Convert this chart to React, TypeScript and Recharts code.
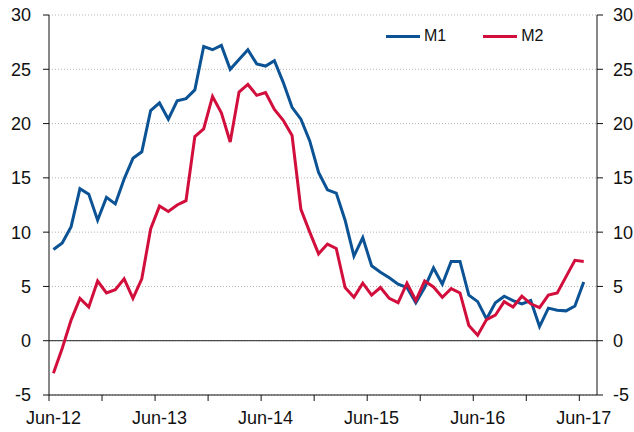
import React from "react";
import {
  LineChart,
  Line,
  XAxis,
  YAxis,
  CartesianGrid,
  ReferenceLine,
  Legend,
} from "recharts";

// monthly, Jun-12 .. Jun-17
const START_YEAR = 12;
const M1 = [
  8.4, 9.0, 10.5, 14.0, 13.5, 11.1, 13.2, 12.6, 14.9, 16.8, 17.4, 21.2, 21.9,
  20.4, 22.1, 22.3, 23.1, 27.1, 26.8, 27.2, 25.0, 25.9, 26.8, 25.5, 25.3, 25.8,
  23.8, 21.5, 20.4, 18.4, 15.5, 13.9, 13.6, 11.1, 7.8, 9.5, 6.9, 6.3, 5.8, 5.2,
  4.9, 3.5, 4.9, 6.7, 5.2, 7.3, 7.3, 4.2, 3.6, 2.0, 3.5, 4.1, 3.7, 3.4, 3.7,
  1.3, 3.0, 2.8, 2.75, 3.2, 5.4,
];
const M2 = [
  -3.0, -0.7, 1.9, 3.9, 3.1, 5.5, 4.4, 4.7, 5.7, 3.9, 5.7, 10.3, 12.4, 11.9,
  12.5, 12.9, 18.8, 19.5, 22.5, 21.0, 18.3, 22.9, 23.6, 22.6, 22.85, 21.3, 20.3,
  18.9, 12.1, 10.0, 8.0, 8.9, 8.5, 4.9, 4.0, 5.3, 4.2, 4.9, 3.9, 3.5, 5.3, 3.7,
  5.5, 4.95, 4.0, 4.8, 4.4, 1.4, 0.5, 1.95, 2.35, 3.6, 3.1, 4.1, 3.4, 3.05, 4.2,
  4.4, 5.9, 7.4, 7.3,
];
const Y_TICKS = [-5, 0, 5, 10, 15, 20, 25, 30];
const X_TICKS = [0, 6, 12, 18, 24, 30, 36, 42, 48, 54, 60];

const BLUE = "#0b5394";
const RED = "#d20f3c";
const FONT = "'Liberation Sans', Arial, sans-serif";

const data = M1.map((v, i) => ({ x: i + 0.5, m1: v, m2: M2[i] }));

const HALF_BAND = 548 / 62 / 2;

function MonthTick(props: any) {
  const { x, y, payload } = props;
  if (payload.value % 12 !== 0) return null;
  const label = "Jun-" + (START_YEAR + payload.value / 12);
  return (
    <text
      x={x + HALF_BAND}
      y={y}
      dy={23}
      textAnchor="middle"
      fontSize={18}
      fontFamily={FONT}
      fill="#111"
    >
      {label}
    </text>
  );
}

function LegendContent() {
  const items = [
    { name: "M1", color: BLUE },
    { name: "M2", color: RED },
  ];
  return (
    <div style={{ display: "flex", gap: 37, fontFamily: FONT, fontSize: 16 }}>
      {items.map((it) => (
        <div key={it.name} style={{ display: "flex", alignItems: "center" }}>
          <span
            style={{
              display: "inline-block",
              width: 34,
              height: 3,
              background: it.color,
              marginRight: 4,
            }}
          />
          <span style={{ color: "#111" }}>{it.name}</span>
        </div>
      ))}
    </div>
  );
}

export default function App() {
  return (
    <div style={{ position: "absolute", left: 0, top: 0, background: "#fff" }}>
      <LineChart
        width={634}
        height={432}
        data={data}
        margin={{ top: 15, right: 0, left: 0, bottom: 0 }}
      >
        <CartesianGrid
          yAxisId="left"
          vertical={false}
          stroke="#b4b4b4"
          strokeDasharray="1 2"
        />
        <XAxis
          dataKey="x"
          type="number"
          domain={[0, 62]}
          ticks={X_TICKS}
          interval={0}
          height={37}
          tickSize={6}
          tickMargin={0}
          stroke="#111"
          tick={<MonthTick />}
        />
        <YAxis
          yAxisId="left"
          domain={[-5, 30]}
          ticks={Y_TICKS}
          interval={0}
          width={49}
          tickSize={6}
          tickMargin={12}
          stroke="#111"
          tick={{ fill: "#111", fontSize: 18, fontFamily: FONT }}
        />
        <YAxis
          yAxisId="right"
          orientation="right"
          domain={[-5, 30]}
          ticks={Y_TICKS}
          interval={0}
          width={37}
          tickSize={6}
          tickMargin={10}
          stroke="#111"
          tick={{ fill: "#111", fontSize: 18, fontFamily: FONT, textAnchor: "start" }}
        />
        <ReferenceLine yAxisId="left" y={0} stroke="#222" strokeWidth={1} />
        <Legend
          layout="horizontal"
          verticalAlign="middle"
          align="center"
          content={<LegendContent />}
          wrapperStyle={{ top: 27, left: 386, width: "auto" }}
        />
        {/* invisible copy so the right-hand axis gets its ticks */}
        <Line
          yAxisId="right"
          dataKey="m1"
          stroke="none"
          dot={false}
          activeDot={false}
          legendType="none"
          isAnimationActive={false}
        />
        <Line
          yAxisId="left"
          dataKey="m1"
          name="M1"
          stroke={BLUE}
          strokeWidth={3}
          dot={false}
          isAnimationActive={false}
        />
        <Line
          yAxisId="left"
          dataKey="m2"
          name="M2"
          stroke={RED}
          strokeWidth={3}
          dot={false}
          isAnimationActive={false}
        />
      </LineChart>
    </div>
  );
}
